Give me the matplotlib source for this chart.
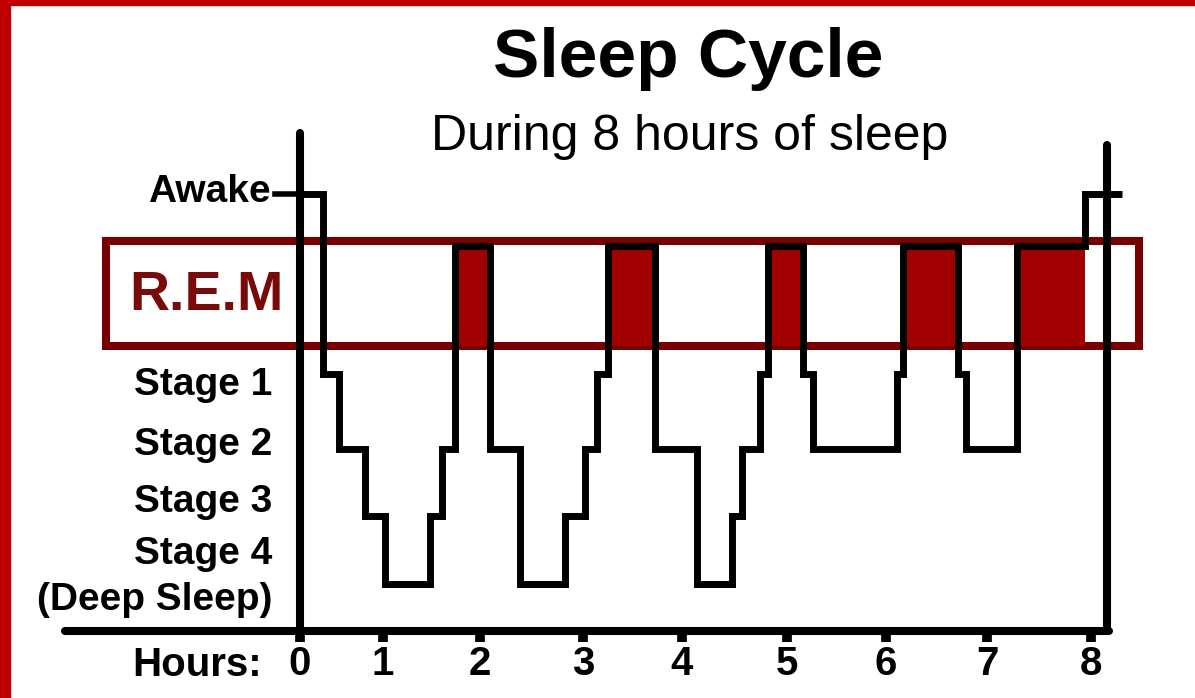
import numpy as np
import matplotlib
matplotlib.use('Agg')
import matplotlib.pyplot as plt
from matplotlib.patches import Rectangle

# ---- data ----
stages = ['Awake', 'REM', 'Stage 1', 'Stage 2', 'Stage 3', 'Stage 4']
stage_level = [4.37, 3.85, 2.57, 1.82, 1.15, 0.47]   # height of each stage line

# step boundaries (hours) and stage held in between
edges = [0.00, 0.28, 0.47, 0.78, 1.02, 1.48, 1.61, 1.74, 2.10, 2.39, 2.83,
         3.02, 3.14, 3.25, 3.73, 4.14, 4.48, 4.57, 4.74, 4.82, 5.16, 5.26,
         6.11, 6.17, 6.71, 6.79, 7.29, 7.94, 8.30]
seq = ['Awake', 'Stage 1', 'Stage 2', 'Stage 3', 'Stage 4', 'Stage 3', 'Stage 2', 'REM',
       'Stage 2', 'Stage 4', 'Stage 3', 'Stage 2', 'Stage 1', 'REM',
       'Stage 2', 'Stage 4', 'Stage 3', 'Stage 2', 'Stage 1', 'REM',
       'Stage 1', 'Stage 2', 'Stage 1', 'REM', 'Stage 1', 'Stage 2', 'REM', 'Awake']
hours = [0, 1, 2, 3, 4, 5, 6, 7, 8]
hour_labels = ['0', '1', '2', '3', '4', '5', '6', '7', '8']
band_low, band_high = 2.85, 3.90      # R.E.M band
band_from, band_to = -2.34, 8.46

# ---- hand drawn hour axis: tick spacing is not even ----
W, H = 1195, 698
tick_px = np.array([300, 383, 480, 583, 682, 787, 886, 987, 1091], float)
hrs = np.array(hours, float)

def forward(h):
    h = np.asarray(h, float)
    p = np.interp(h, hrs, tick_px)
    p = np.where(h < hrs[0], tick_px[0] + (h - hrs[0]) * (tick_px[1] - tick_px[0]), p)
    p = np.where(h > hrs[-1], tick_px[-1] + (h - hrs[-1]) * (tick_px[-1] - tick_px[-2]), p)
    return p

def inverse(p):
    p = np.asarray(p, float)
    h = np.interp(p, tick_px, hrs)
    h = np.where(p < tick_px[0], hrs[0] + (p - tick_px[0]) / (tick_px[1] - tick_px[0]), h)
    h = np.where(p > tick_px[-1], hrs[-1] + (p - tick_px[-1]) / (tick_px[-1] - tick_px[-2]), h)
    return h

plt.rcParams['font.family'] = ['Liberation Sans', 'DejaVu Sans']

fig = plt.figure(figsize=(W / 100, H / 100), dpi=100)
fig.patch.set_facecolor('white')
ax = fig.add_axes([300 / W, 1 - 631 / H, (1091 - 300) / W, 500 / H])
ax.set_xscale('function', functions=(forward, inverse))
ax.set_xlim(0, 8)
ax.set_ylim(0, 5)
for s in ax.spines.values():
    s.set_visible(False)

lvl = dict(zip(stages, stage_level))
rem_red = '#a00000'
band_col = '#780000'

# R.E.M band
ax.add_patch(Rectangle((band_from, band_low), band_to - band_from, band_high - band_low,
                       fill=False, edgecolor=band_col, linewidth=5.8, zorder=1, clip_on=False))

# red fill under REM periods
for a, b, s in zip(edges[:-1], edges[1:], seq):
    if s == 'REM':
        ax.bar(a, lvl['REM'] - band_low, width=b - a, bottom=band_low, align='edge',
               color=rem_red, zorder=2, clip_on=False)

# hypnogram
ax.stairs([lvl[s] for s in seq], edges, baseline=None, color='black', linewidth=5,
          zorder=4, clip_on=False)

# axis frame lines
ax.plot([0, 0], [0, 4.98], color='black', lw=5.8, solid_capstyle='round', zorder=3, clip_on=False)
ax.plot([-2.83, 8.17], [0, 0], color='black', lw=5.8, solid_capstyle='round', zorder=3, clip_on=False)
ax.plot([8.15, 8.15], [0, 4.86], color='black', lw=5.8, solid_capstyle='round', zorder=5, clip_on=False)
ax.plot([-0.30, 0], [lvl['Awake'], lvl['Awake']], color='black', lw=4, zorder=3, clip_on=False)

ax.set_xticks(hours)
ax.set_xticklabels(hour_labels, fontsize=29, fontweight='bold')
ax.xaxis.set_minor_locator(matplotlib.ticker.NullLocator())
ax.tick_params(axis='x', direction='out', length=8, width=7, pad=2, color='black')
ax.set_yticks([])

# stage labels
def fx(px):
    return px / W

def fy(py):
    return 1 - py / H

lab = dict(fontsize=28, fontweight='bold', ha='right', va='center')
fig.text(fx(271), fy(192), 'Awake', **lab)
fig.text(fx(284), fy(296), 'R.E.M', fontsize=40, fontweight='bold', ha='right', va='center',
         color='#780a0a')
fig.text(fx(272), fy(385), 'Stage 1', **lab)
fig.text(fx(272), fy(445), 'Stage 2', **lab)
fig.text(fx(272), fy(502), 'Stage 3', **lab)
fig.text(fx(272), fy(554), 'Stage 4', **lab)
fig.text(fx(272), fy(600), '(Deep Sleep)', **lab)
fig.text(fx(262), fy(665), 'Hours:', fontsize=29, fontweight='bold', ha='right', va='center')

fig.text(fx(688), fy(77), 'Sleep Cycle', fontsize=50, fontweight='bold', ha='center', va='baseline')
fig.text(fx(690), fy(150), 'During 8 hours of sleep', fontsize=36, ha='center', va='baseline')

# red frame on left and top
fig.patches.append(Rectangle((0, 0), 10 / W, 1, transform=fig.transFigure, color='#c00000', zorder=10))
fig.patches.append(Rectangle((0, 1 - 5 / H), 1, 5 / H, transform=fig.transFigure, color='#c00000', zorder=10))

fig.savefig('out.png', dpi=100)
